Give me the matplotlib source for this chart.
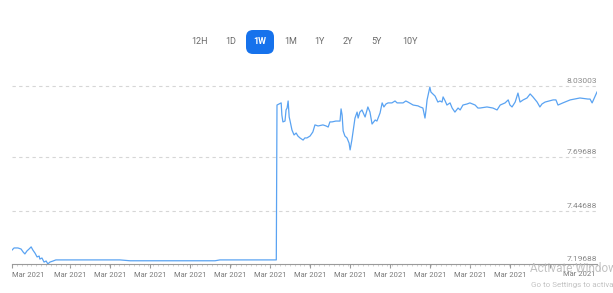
import numpy as np
import matplotlib.pyplot as plt
from matplotlib.patches import FancyBboxPatch
from matplotlib.transforms import blended_transform_factory

# USD rate over one week (hours since start of window)
hours = [0.0, 0.6, 1.7, 2.6, 3.2, 3.7, 4.3, 4.9, 5.5, 6.0, 6.6, 7.2, 7.8, 8.0, 8.6,
         9.2, 9.8, 10.3, 10.9, 11.8, 12.6, 31.0, 33.9, 58.3, 59.7, 75.9,
         76.1, 76.7, 77.3, 77.5, 77.8, 78.4, 78.7, 79.0, 79.3, 79.6, 79.8, 80.4,
         81.0, 81.6, 82.1, 82.7, 83.6, 84.1, 84.7, 85.6, 86.4, 87.0, 87.9, 89.3,
         90.2, 90.8, 91.3, 91.9, 93.0, 94.2, 94.5, 94.8, 95.1, 95.6, 96.2, 96.8,
         97.1, 97.6, 98.5, 99.1, 99.4, 99.9, 100.5, 101.4, 102.2, 102.8, 103.4,
         104.3, 104.8, 105.7, 106.3, 106.8, 107.4, 108.0, 109.1, 110.0, 110.6,
         112.3, 113.1, 113.7, 115.2, 116.6, 117.2, 118.0, 118.6, 118.9, 119.2,
         119.5, 120.0, 120.3, 120.6, 121.5, 122.3, 122.9, 123.5, 123.8, 124.4,
         124.9, 125.8, 126.4, 127.2, 128.1, 128.7, 129.5, 130.7, 131.5, 133.0,
         133.8, 134.4, 136.4, 138.1, 139.3, 140.2, 141.6, 142.5, 143.0, 143.6,
         144.5, 145.3, 145.9, 146.8, 147.9, 148.8, 149.6, 150.8, 151.6, 152.2,
         153.1, 155.4, 156.2, 156.8, 158.2, 160.3, 163.1, 165.4, 166.0, 166.6, 168.0]
rate = [7.262, 7.272, 7.272, 7.267, 7.253, 7.244, 7.258, 7.267, 7.277, 7.262, 7.248,
        7.230, 7.234, 7.220, 7.225, 7.206, 7.211, 7.197, 7.206, 7.211, 7.216, 7.216,
        7.212, 7.212, 7.216, 7.216,
        7.941, 7.946, 7.951, 7.894, 7.862, 7.866, 7.918, 7.927, 7.960, 7.885, 7.871,
        7.824, 7.801, 7.810, 7.796, 7.787, 7.777, 7.787, 7.787, 7.796, 7.815, 7.848,
        7.843, 7.848, 7.843, 7.838, 7.862, 7.862, 7.866, 7.866, 7.923, 7.894, 7.820,
        7.796, 7.787, 7.763, 7.731, 7.777, 7.880, 7.908, 7.880, 7.908, 7.918, 7.885,
        7.932, 7.908, 7.852, 7.871, 7.866, 7.904, 7.951, 7.932, 7.946, 7.951, 7.951,
        7.960, 7.951, 7.951, 7.960, 7.955, 7.941, 7.937, 7.932, 7.927, 7.880, 7.918,
        7.965, 7.988, 8.025, 8.002, 7.997, 7.983, 7.955, 7.960, 7.955, 7.979, 7.960,
        7.941, 7.951, 7.927, 7.908, 7.927, 7.918, 7.941, 7.946, 7.951, 7.941, 7.927,
        7.927, 7.932, 7.927, 7.918, 7.941, 7.951, 7.965, 7.941, 7.932, 7.955, 7.997,
        7.955, 7.965, 7.974, 7.993, 7.979, 7.955, 7.932, 7.946, 7.955, 7.965, 7.965,
        7.941, 7.951, 7.965, 7.974, 7.969, 7.969, 7.951, 8.002]

y_levels = [7.19688, 7.44688, 7.69688, 8.03003]
y_labels = ["7.19688", "7.44688", "7.69688", "8.03003"]
range_buttons = ["12H", "1D", "1W", "1M", "1Y", "2Y", "5Y", "10Y"]
selected = "1W"
date_label = "Mar 2021"

W, H = 613, 293
fig = plt.figure(figsize=(W / 100, H / 100), dpi=100)
plt.rcParams['font.family'] = ['Roboto', 'DejaVu Sans']

# plot area in pixels: x 12..597, y 70..264
ax = fig.add_axes([12 / W, (H - 264) / H, 585 / W, 194 / H])
ax.plot(hours, rate, color="#5aa3f2", linewidth=0.9)
ax.set_xlim(0, 168)
ax.set_ylim(7.19688, 8.105)

for spine in ["top", "right", "left"]:
    ax.spines[spine].set_visible(False)
ax.spines["bottom"].set_color("#9a9a9a")
ax.spines["bottom"].set_linewidth(0.8)
ax.set_yticks([])

# dashed grid lines with labels sitting on top, right aligned
for lvl in y_levels[1:]:
    ax.axhline(lvl, color="#d6d6d6", linestyle=(0, (3, 3)), linewidth=0.8, zorder=0)
for lvl, lab in zip(y_levels, y_labels):
    ax.annotate(lab, xy=(1.0, lvl), xycoords=("axes fraction", "data"),
                xytext=(0, 1.5), textcoords="offset points",
                ha="right", va="bottom", fontsize=6, color="#8a8a8a")

# x ticks
step = 11.49
tick_hours = [0.0] + [16.66 + step * k for k in range(13)]
tick_labels = [date_label] * 13 + [""]
ax.set_xticks(tick_hours, labels=tick_labels)
ax.set_xticks(np.arange(0, 168, 1.4), minor=True)
ax.tick_params(axis="x", which="major", length=3, color="#9a9a9a", pad=3,
               labelsize=5.5, labelcolor="#7a7a7a")
ax.tick_params(axis="x", which="minor", length=1.2, color="#c0c0c0", width=0.5)
ax.get_xticklabels()[0].set_horizontalalignment("left")
trans = blended_transform_factory(ax.transData, ax.transAxes)
ax.text(162.8, -0.035, date_label, transform=trans, ha="center", va="top",
        fontsize=5.5, color="#7a7a7a")

# overlay in pixel coordinates for the range selector and the watermark
ov = fig.add_axes([0, 0, 1, 1], facecolor="none")
ov.set_xlim(0, W)
ov.set_ylim(H, 0)
ov.axis("off")

btn_x = [200, 231, 260, 291, 319, 348, 377, 410]
for name, px in zip(range_buttons, btn_x):
    if name == selected:
        ov.add_patch(FancyBboxPatch((px - 14, 30), 28, 24,
                                    boxstyle="round,pad=0,rounding_size=7",
                                    facecolor="#1672ec", edgecolor="none"))
        ov.text(px, 42, name, ha="center", va="center",
                fontsize=6.5, color="white", fontweight="bold")
    else:
        ov.text(px, 42, name, ha="center", va="center",
                fontsize=6.5, color="#6a6a6a")

# screen watermark visible in the screenshot
ov.text(530, 268, "Activate Windows", fontsize=8.5, color="#b8b8b8",
        va="center", ha="left", alpha=0.85)
ov.text(531, 285, "Go to Settings to activate Windows.", fontsize=5.8,
        color="#b8b8b8", va="center", ha="left", alpha=0.85)

plt.savefig("out.png", dpi=100)
